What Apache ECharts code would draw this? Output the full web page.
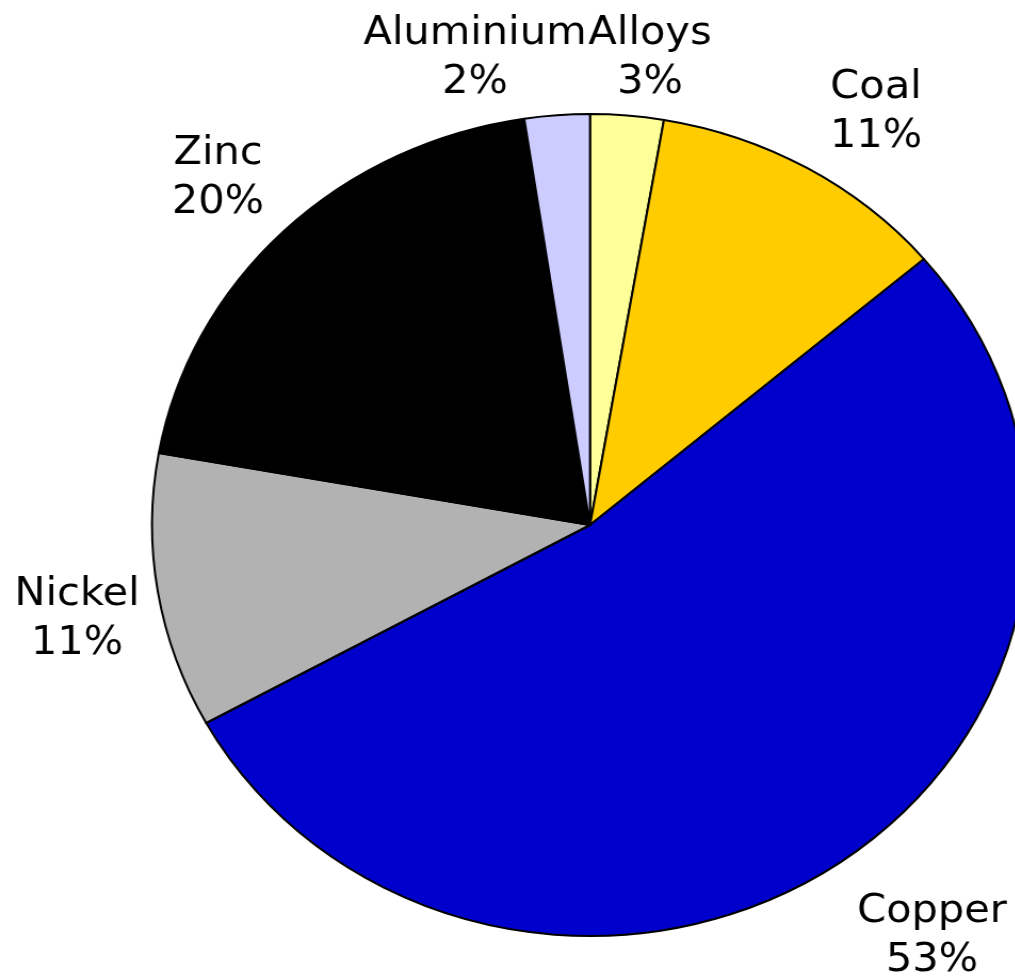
<!DOCTYPE html>
<html>
<head>
<meta charset="utf-8">
<script src="https://cdn.jsdelivr.net/npm/echarts@6/dist/echarts.min.js"></script>
<style>
  html, body { margin: 0; padding: 0; background: #fff; overflow: hidden; }
  /* the original picture is stretched a little wider than tall */
  #main {
    width: 953px;
    height: 977px;
    transform: scaleX(1.0657);
    transform-origin: 0 0;
  }
</style>
</head>
<body>
<div id="main"></div>
<script>
// slices, clockwise from 12 o'clock
var names = ["Alloys", "Coal", "Copper", "Nickel", "Zinc", "Aluminium"];
var shares = [2.7, 11.1, 53.2, 10.8, 19.8, 2.4];
var colors = ["#FFFF99", "#FFCC00", "#0000CC", "#B2B2B2", "#000000", "#CCCCFF"];

var SX = 1.0657;
// label centres on the page (x, y)
var labelPos = [[650, 58], [876, 112], [932, 936], [77, 619], [218, 178], [475, 58]];

var chartDom = document.getElementById("main");
var myChart = echarts.init(chartDom);

var seriesData = names.map(function (n, i) {
  return { name: n, value: shares[i], itemStyle: { color: colors[i] } };
});

var option = {
  animation: false,
  series: [
    {
      type: "pie",
      center: [590 / SX, 525],
      radius: 411,
      startAngle: 90,
      clockwise: true,
      data: seriesData,
      itemStyle: {
        borderColor: "#000",
        borderWidth: 2,
      },
      label: {
        show: true,
        position: "outside",
        color: "#000",
        fontFamily: "DejaVu Sans",
        fontSize: 39,
        lineHeight: 49,
        align: "center",
        overflow: "none",
        bleedMargin: 0,
        formatter: function (p) {
          return p.name + "\n" + Math.round(p.percent) + "%";
        },
      },
      labelLine: { show: false },
      labelLayout: function (params) {
        var p = labelPos[params.dataIndex];
        return { x: p[0] / SX, y: p[1], align: "center", verticalAlign: "middle" };
      },
    },
  ],
};
myChart.setOption(option);
</script>
</body>
</html>
